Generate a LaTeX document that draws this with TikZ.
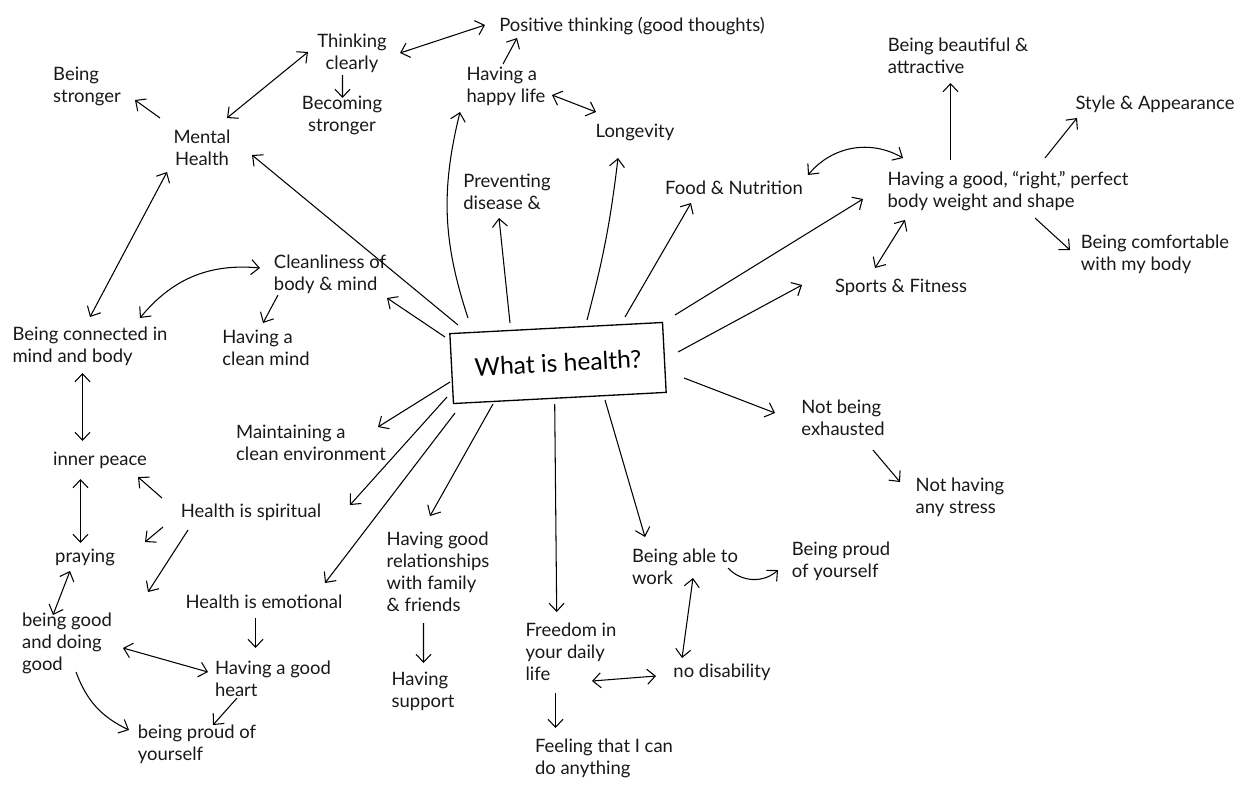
\documentclass[tikz,border=0pt]{standalone}
\usepackage{fontspec}
\setmainfont{Lato}
\usetikzlibrary{arrows.meta}
\begin{document}
\begin{tikzpicture}[x=0.02cm,y=-0.02cm,
  >={Straight Barb[length=1.6mm,width=3mm]},
  idea/.style={font=\fontsize{10.5}{12.5}\selectfont, align=left, inner sep=1pt, text=black!90},
  idc/.style={idea, align=center},
  hubbox/.style={draw, line width=0.75pt, rotate=3, minimum width=4.26cm, minimum height=1.4cm,
    font=\fontsize{14}{16}\selectfont},
  link/.style={line width=0.6pt, ->},
  both/.style={line width=0.6pt, <->}]
\useasboundingbox (0,0) rectangle (1257,792);
\fill[white] (0,0) rectangle (1257,792);

% central question
\node[hubbox] (hub) at (558,363) {What is health?};

% ideas
\node[idea] (pos) at (632,26) {Positive thinking (good thoughts)};
\node[idc] (think) at (352,53) {Thinking\\clearly};
\node[idc] (becs) at (342,115) {Becoming\\stronger};
\node[idea] (bstr) at (87,86) {Being\\stronger};
\node[idc] (mental) at (202,148) {Mental\\Health};
\node[idea] (happy) at (506,86) {Having a\\happy life};
\node[idea] (longev) at (635,132) {Longevity};
\node[idea] (prevent) at (507,192) {Preventing\\disease \&};
\node[idea] (food) at (734,188) {Food \& Nutrition};
\node[idea] (beaut) at (958,56) {Being beautiful \&\\attractive};
\node[idea] (style) at (1155,104) {Style \& Appearance};
\node[idea] (weight) at (1008,191) {Having a good, ``right,'' perfect\\body weight and shape};
\node[idea] (comf) at (1155,254) {Being comfortable\\with my body};
\node[idea] (sports) at (901,287) {Sports \& Fitness};
\node[idea] (clean) at (330,274) {Cleanliness of\\body \& mind};
\node[idea] (cmind) at (266,348) {Having a\\clean mind};
\node[idea] (conn) at (90,346) {Being connected in\\mind and body};
\node[idea] (inner) at (100,460) {inner peace};
\node[idea] (maint) at (311,443) {Maintaining a\\clean environment};
\node[idea] (spirit) at (251,512) {Health is spiritual};
\node[idea] (pray) at (85,557) {praying};
\node[idea] (bgood) at (67,643) {being good\\and doing\\good};
\node[idea] (emot) at (264,602) {Health is emotional};
\node[idea] (gheart) at (273,679) {Having a good\\heart};
\node[idea] (bproud) at (197,744) {being proud of\\yourself};
\node[idea] (rel) at (438,572) {Having good\\relationships\\with family\\\& friends};
\node[idea] (support) at (423,691) {Having\\support};
\node[idea] (freedom) at (571,652) {Freedom in\\your daily\\life};
\node[idea] (feeling) at (604,758) {Feeling that I can\\do anything};
\node[idea] (work) at (685,567) {Being able to\\work};
\node[idea] (proud2) at (841,561) {Being proud\\of yourself};
\node[idea] (nodis) at (722,672) {no disability};
\node[idea] (exh) at (843,418) {Not being\\exhausted};
\node[idea] (stress) at (960,497) {Not having\\any stress};
\coordinate (spiritend) at (148,592);

% spokes leaving the central question
\draw[link] ([shift={(-100,-38)}]hub.center) -- ([shift={(50,7)}]mental.center);
\draw[link] ([shift={(-90,-45)}]hub.center) to[bend left=16] ([shift={(-46,26)}]happy.center);
\draw[link] ([shift={(-48,-40)}]hub.center) -- ([shift={(-8,26)}]prevent.center);
\draw[link] ([shift={(29,-43)}]hub.center) to[bend right=4] ([shift={(-17,26)}]longev.center);
\draw[link] ([shift={(67,-46)}]hub.center) -- ([shift={(-43,15)}]food.center);
\draw[link] ([shift={(117,-48)}]hub.center) -- ([shift={(-145,8)}]weight.center);
\draw[link] ([shift={(120,-11)}]hub.center) -- ([shift={(-99,-2)}]sports.center);
\draw[link] ([shift={(126,15)}]hub.center) -- ([shift={(-68,-5)}]exh.center);
\draw[link] ([shift={(47,37)}]hub.center) -- ([shift={(-40,-30)}]work.center);
\draw[link] ([shift={(-3.3,41)}]hub.center) -- ([shift={(-14.3,-40)}]freedom.center);
\draw[link] ([shift={(-65,41)}]hub.center) -- ([shift={(-8,-56)}]rel.center);
\draw[link] ([shift={(-103,50)}]hub.center) -- ([shift={(61,-19)}]emot.center);
\draw[link] ([shift={(-111,34)}]hub.center) -- ([shift={(99,-7)}]spirit.center);
\draw[link] ([shift={(-108,19)}]hub.center) -- ([shift={(67,-16)}]maint.center);
\draw[link] ([shift={(-113,-26)}]hub.center) -- ([shift={(57,24)}]clean.center);

% upper branches
\draw[both] ([shift={(48,0)}]think.center) -- ([shift={(-147,-1)}]pos.center);
\draw[link] ([shift={(-3,-22)}]happy.center) -- ([shift={(-115,12)}]pos.center);
\draw[both] ([shift={(46,9)}]happy.center) -- ([shift={(-39,-20)}]longev.center);
\draw[link] ([shift={(-9.5,22)}]think.center) -- ([shift={(0.5,-17)}]becs.center);
\draw[both] ([shift={(25,-30)}]mental.center) -- ([shift={(-44,-1)}]think.center);
\draw[link] ([shift={(-42,-30)}]mental.center) -- ([shift={(48,14)}]bstr.center);
\draw[both] ([shift={(-35,24)}]mental.center) -- ([shift={(0,-29)}]conn.center);
\draw[both] ([shift={(50,-28)}]conn.center) to[bend left=28] ([shift={(-70,-6)}]clean.center);
\draw[link] ([shift={(-52,21)}]clean.center) -- ([shift={(-3,-25)}]cmind.center);

% left branches
\draw[both] ([shift={(-7.5,27)}]conn.center) -- ([shift={(-17.5,-19)}]inner.center);
\draw[both] ([shift={(-19.5,19)}]inner.center) -- ([shift={(-4.5,-14)}]pray.center);
\draw[link] ([shift={(-89,-14)}]spirit.center) -- ([shift={(38,17)}]inner.center);
\draw[link] ([shift={(-88,15)}]spirit.center) -- ([shift={(60,-15)}]pray.center);
\draw[link] ([shift={(-63,18)}]spirit.center) -- (spiritend);
\draw[both] ([shift={(-15,14)}]pray.center) -- ([shift={(-14,-28)}]bgood.center);
\draw[both] ([shift={(56,5)}]bgood.center) -- ([shift={(-65,-7)}]gheart.center);
\draw[link] ([shift={(9,29)}]bgood.center) to[bend right=22] ([shift={(-68,-14)}]bproud.center);
\draw[link] ([shift={(-36,19)}]gheart.center) -- ([shift={(16,-19)}]bproud.center);
\draw[link] ([shift={(-8.5,16)}]emot.center) -- ([shift={(-17.5,-31)}]gheart.center);

% lower branches
\draw[link] ([shift={(-14.5,51)}]rel.center) -- ([shift={(0.5,-28)}]support.center);
\draw[link] ([shift={(-15.5,41)}]freedom.center) -- ([shift={(-48.5,-30)}]feeling.center);
\draw[both] ([shift={(21,29)}]freedom.center) -- ([shift={(-66,4)}]nodis.center);
\draw[both] ([shift={(8,11)}]work.center) -- ([shift={(-40,-14)}]nodis.center);
\draw[link] ([shift={(43,1)}]work.center) to[bend right=45] ([shift={(-63,9)}]proud2.center);
\draw[link] ([shift={(30,32)}]exh.center) -- ([shift={(-60,-15)}]stress.center);

% right branches
\draw[both] ([shift={(74,-13)}]food.center) to[bend left=40] ([shift={(-105,-33)}]weight.center);
\draw[both] ([shift={(-103,29)}]weight.center) -- ([shift={(-26,-19)}]sports.center);
\draw[link] ([shift={(-57.5,-31)}]weight.center) -- ([shift={(-7.5,27)}]beaut.center);
\draw[link] ([shift={(37,-33)}]weight.center) -- ([shift={(-78,14)}]style.center);
\draw[link] ([shift={(27,27)}]weight.center) -- ([shift={(-85,-4)}]comf.center);
\end{tikzpicture}
\end{document}
